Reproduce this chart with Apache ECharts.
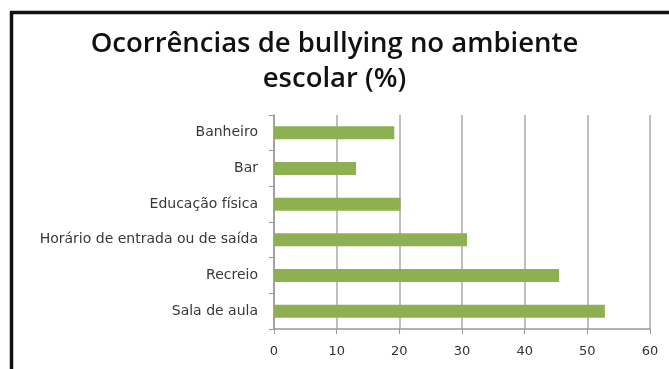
<!DOCTYPE html>
<html><head><meta charset="utf-8">
<script src="https://cdn.jsdelivr.net/npm/echarts@6/dist/echarts.min.js"></script>
<style>html,body{margin:0;padding:0;background:#fff}#c{width:669px;height:369px}</style>
</head><body><div id="c"></div>
<script>
const titleText = 'Ocorrências de bullying no ambiente\nescolar (%)';
const categories = ['Banheiro', 'Bar', 'Educação física', 'Horário de entrada ou de saída', 'Recreio', 'Sala de aula'];
const values = [19.2, 13.1, 20.2, 30.8, 45.5, 52.8];
const xTicks = [0, 10, 20, 30, 40, 50, 60];

const chart = echarts.init(document.getElementById('c'), null, {renderer: 'canvas'});
chart.setOption({
  backgroundColor: '#fff',
  animation: false,
  graphic: [{
    type: 'rect', left: 9, top: 10, shape: {width: 700, height: 400},
    style: {fill: 'none', stroke: '#111', lineWidth: 3.5}, silent: true
  }],
  title: {
    text: titleText, left: 'center', top: 22,
    textStyle: {fontFamily: '"Open Sans"', fontWeight: 600, fontSize: 27.5, lineHeight: 35, color: '#111'}
  },
  grid: {left: 274, right: 19, top: 115, bottom: 40, containLabel: false},
  xAxis: {
    type: 'value', min: xTicks[0], max: xTicks[xTicks.length - 1], interval: 10,
    axisLine: {show: true, lineStyle: {color: '#999', width: 1.5}},
    axisTick: {show: true, length: 5, lineStyle: {color: '#999'}},
    splitLine: {show: true, lineStyle: {color: '#aaa', width: 1.5}},
    axisLabel: {fontFamily: '"DejaVu Sans", Verdana', fontSize: 13, color: '#333', margin: 16}
  },
  yAxis: {
    type: 'category', data: categories, inverse: true,
    axisLine: {show: true, lineStyle: {color: '#999', width: 1.5}},
    axisTick: {show: true, length: 5, lineStyle: {color: '#999'}},
    axisLabel: {fontFamily: '"DejaVu Sans", Verdana', fontSize: 14, color: '#383838', margin: 16}
  },
  series: [{
    type: 'bar', data: values, barWidth: 13,
    itemStyle: {color: '#8db152'}
  }]
});
</script></body></html>
